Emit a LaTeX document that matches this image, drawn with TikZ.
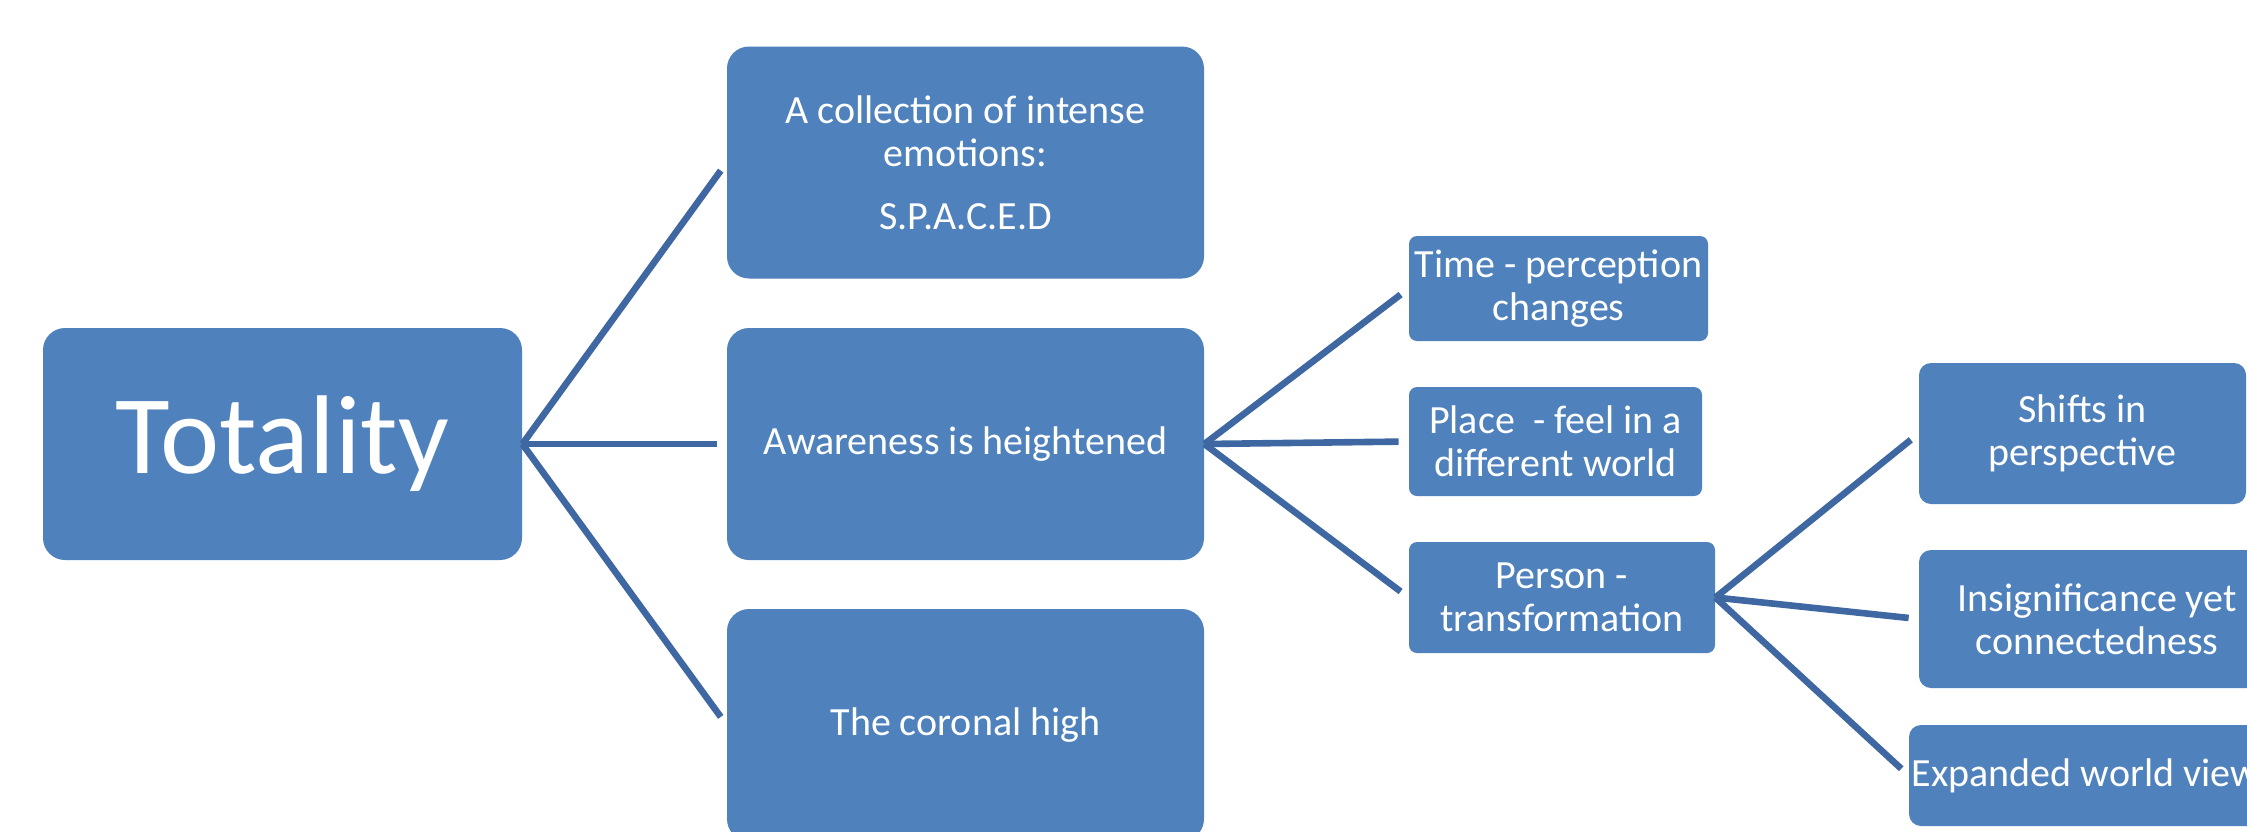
\documentclass[tikz,border=0pt]{standalone}
\usepackage{fontspec}
\setmainfont{Carlito}
\definecolor{boxblue}{HTML}{4F81BD}
\definecolor{lineblue}{HTML}{3F68A2}
\begin{document}
\begin{tikzpicture}[x=0.5pt,y=-0.5pt,
  box/.style={fill=boxblue, text=white, rounded corners=5pt, inner sep=0pt, align=center,
    font=\fontsize{20}{21.5}\selectfont},
  bigbox/.style={box, rounded corners=11pt, minimum width=238.5pt, minimum height=116pt},
  link/.style={draw=lineblue, line width=3.3pt, shorten >=5pt}]
\useasboundingbox (0,0) rectangle (2247,831);
\clip (0,0) rectangle (2247,831);
\fill[white] (0,0) rectangle (2247,831);
% level 1
\node[bigbox, minimum width=239.5pt, font=\fontsize{56}{60}\selectfont] (tot) at (282.5,444) {Totality};
% level 2
\node[bigbox] (a) at (965.5,162.5) {A collection of intense\\emotions:\\[10pt]S.P.A.C.E.D};
\node[bigbox] (aw) at (965.5,444) {Awareness is heightened};
\node[bigbox] (cor) at (965.5,725) {The coronal high};
% level 3
\node[box, rounded corners=4pt, minimum width=149.5pt, minimum height=52.5pt] (time) at (1558.5,288.5) {Time - perception\\changes};
\node[box, rounded corners=4pt, minimum width=146.5pt, minimum height=54.5pt] (place) at (1555.5,441.5) {Place\ \ - feel in a\\different world};
\node[box, rounded corners=4pt, minimum width=153pt, minimum height=55.5pt] (person) at (1562,597.5) {Person -\\transformation};
% level 4
\node[box, rounded corners=6pt, minimum width=163.5pt, minimum height=70.5pt] (shifts) at (2082.5,433.5) {Shifts in\\perspective};
\node[box, rounded corners=6pt, minimum width=178pt, minimum height=69pt] (insig) at (2097,619) {Insignificance yet\\connectedness};
\node[box, rounded corners=6pt, minimum width=176.5pt, minimum height=50.5pt] (exp) at (2085.5,775.5) {Expanded world view};
% connectors
\foreach \c in {a,aw,cor} \draw[link] (tot.east) -- (\c.west);
\foreach \c in {time,place,person} \draw[link] (aw.east) -- (\c.west);
\foreach \c in {shifts,insig,exp} \draw[link] (person.east) -- (\c.west);
\end{tikzpicture}
\end{document}
